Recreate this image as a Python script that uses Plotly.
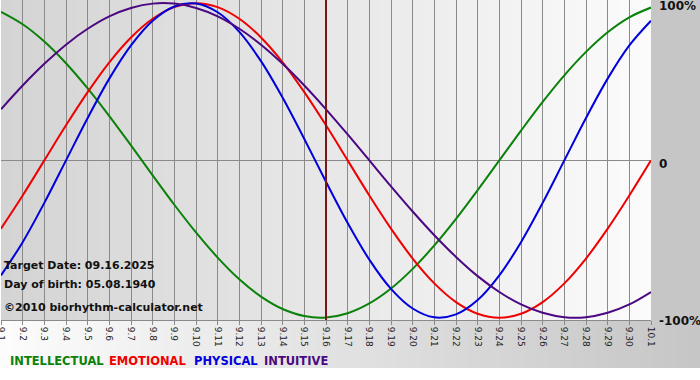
import plotly.graph_objects as go

# ---- data ----
DATES = ["9.1", "9.2", "9.3", "9.4", "9.5", "9.6", "9.7", "9.8", "9.9", "9.10",
         "9.11", "9.12", "9.13", "9.14", "9.15", "9.16", "9.17", "9.18", "9.19", "9.20",
         "9.21", "9.22", "9.23", "9.24", "9.25", "9.26", "9.27", "9.28", "9.29", "9.30", "10.1"]

INTELLECTUAL = [94.5, 86.6, 75.6, 61.8, 45.8, 28.2, 9.5, -9.5, -28.2, -45.8,
                -61.8, -75.6, -86.6, -94.5, -99.0, -99.9, -97.2, -91.0, -81.5, -69.0,
                -54.1, -37.2, -18.9, 0.0, 18.9, 37.2, 54.1, 69.0, 81.5, 91.0, 97.2]
EMOTIONAL = [-43.4, -22.3, 0.0, 22.3, 43.4, 62.4, 78.2, 90.1, 97.5, 100.0,
             97.5, 90.1, 78.2, 62.4, 43.4, 22.3, 0.0, -22.3, -43.4, -62.4,
             -78.2, -90.1, -97.5, -100.0, -97.5, -90.1, -78.2, -62.4, -43.4, -22.3, 0.0]
PHYSICAL = [-73.1, -52.0, -27.0, 0.0, 27.0, 52.0, 73.1, 88.8, 97.9, 99.8,
            94.2, 81.7, 63.1, 39.8, 13.6, -13.6, -39.8, -63.1, -81.7, -94.2,
            -99.8, -97.9, -88.8, -73.1, -52.0, -27.0, 0.0, 27.0, 52.0, 73.1, 88.8]
INTUITIVE = [32.5, 47.6, 61.4, 73.6, 83.7, 91.6, 96.9, 99.7, 99.7, 96.9,
             91.6, 83.7, 73.6, 61.4, 47.6, 32.5, 16.5, 0.0, -16.5, -32.5,
             -47.6, -61.4, -73.6, -83.7, -91.6, -96.9, -99.7, -99.7, -96.9, -91.6, -83.7]

SERIES_NAMES = ["INTELLECTUAL", "EMOTIONAL", "PHYSICAL", "INTUITIVE"]
SERIES_COLORS = ["#0a820a", "#f00000", "#0000dd", "#4b0882"]
Y_TICKS = [100, 0, -100]
Y_TICK_TEXT = ["100%", "0", "-100%"]
TARGET_DATE = "9.16"
INFO_LINES = ["Target Date: 09.16.2025", "Day of birth: 05.08.1940", "©2010 biorhythm-calculator.net"]

FONT = "DejaVu Sans"
W, H = 700, 380
L, R, T, B = 1, 49, 0, 60
PW, PH = W - L - R, H - T - B

x = list(range(len(DATES)))
fig = go.Figure()
for name, vals, col in zip(SERIES_NAMES, [INTELLECTUAL, EMOTIONAL, PHYSICAL, INTUITIVE], SERIES_COLORS):
    fig.add_trace(go.Scatter(x=x, y=vals, mode="lines", name=name,
                             line=dict(color=col, width=2, shape="spline", smoothing=1.0),
                             showlegend=False, hoverinfo="skip"))

shapes = []
def lerp(a, b, t):
    return int(round(a + (b - a) * t))

# plot area gradient (gray left -> near white right)
N = 60
for i in range(N):
    t = i / (N - 1)
    c = lerp(0xd4, 0xfb, t)
    shapes.append(dict(type="rect", xref="paper", yref="paper", x0=i / N, x1=(i + 1) / N + 0.002,
                       y0=0, y1=1, fillcolor=f"rgb({c},{c},{c})", line=dict(width=0), layer="below"))
# right margin gray
shapes.append(dict(type="rect", xref="paper", yref="paper", x0=1, x1=(PW + R) / PW, y0=1 - 368 / PH, y1=1,
                   fillcolor="rgb(198,198,198)", line=dict(width=0), layer="below"))
# bottom band gradient (white left -> gray right)
for i in range(N):
    t = i / (N - 1)
    c = lerp(0xfc, 0xc6, t)
    shapes.append(dict(type="rect", xref="paper", yref="paper",
                       x0=(-L / PW) + i / N * (W / PW), x1=(-L / PW) + (i + 1) / N * (W / PW) + 0.002,
                       y0=1 - 368 / PH, y1=0, fillcolor=f"rgb({c},{c},{c})", line=dict(width=0), layer="below"))
# target date line
shapes.append(dict(type="line", xref="x", yref="paper", x0=DATES.index(TARGET_DATE), x1=DATES.index(TARGET_DATE),
                   y0=0, y1=1, line=dict(color="#7a1616", width=2), layer="above"))

annotations = []
for txt, ypx in zip(INFO_LINES, [265, 284, 307]):
    annotations.append(dict(text=txt, xref="paper", yref="paper", x=2 / PW - L / PW, y=1 - ypx / PH,
                            xanchor="left", yanchor="middle", showarrow=False,
                            font=dict(family=FONT, size=11, color="#111111", weight="bold")))
# legend words (pixel x positions of each word)
LEGEND_X = [8, 107, 192, 262]
for n, c, lx in zip(SERIES_NAMES, SERIES_COLORS, LEGEND_X):
    annotations.append(dict(text=n, xref="paper", yref="paper", x=(lx - L) / PW, y=1 - 361 / PH,
                            xanchor="left", yanchor="middle", showarrow=False,
                            font=dict(family=FONT, size=11.5, color=c, weight="bold")))

fig.update_layout(
    width=W, height=H, margin=dict(l=L, r=R, t=T, b=B, autoexpand=False),
    paper_bgcolor="white", plot_bgcolor="rgba(0,0,0,0)",
    shapes=shapes, annotations=annotations,
    xaxis=dict(range=[0, len(DATES) - 1], tickmode="array", tickvals=x, ticktext=DATES,
               tickangle=90, tickfont=dict(family=FONT, size=9, color="#222222"),
               showgrid=True, gridcolor="#8a8a8a", gridwidth=1, ticklabeloverflow="allow",
               ticks="outside", ticklen=4, tickcolor="#8a8a8a", automargin=False,
               showline=True, linecolor="#8a8a8a", linewidth=1, zeroline=False, fixedrange=True),
    yaxis=dict(range=[-101.5, 102], side="right", tickmode="array", tickvals=Y_TICKS, ticktext=Y_TICK_TEXT,
               tickfont=dict(family=FONT, size=12, color="#111111", weight="bold"),
               showgrid=False, zeroline=True, zerolinecolor="#8a8a8a", zerolinewidth=1, automargin=False,
               ticks="", ticklabelstandoff=7, ticklabelshift=3, ticklabeloverflow="allow",
               showline=False, fixedrange=True),
)

fig.write_html("out.html", config={"displayModeBar": False},
               post_script="document.body.style.margin='0px';")
